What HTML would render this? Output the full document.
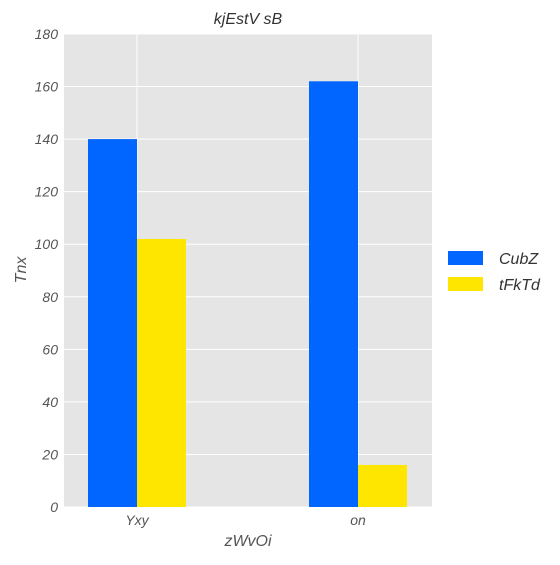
<!DOCTYPE html>
<html><head><meta charset="utf-8"><style>
body{margin:0;background:#fff;}
svg text{font-family:"Liberation Sans",sans-serif;font-style:italic;}
</style></head><body>
<svg id="chart" width="560" height="560" xmlns="http://www.w3.org/2000/svg">
<rect x="64" y="34" width="368" height="473" fill="#e5e5e5"/>
<g id="grid"></g>
<g id="bars"></g>
<g id="ticks"></g>
<text x="248" y="24" text-anchor="middle" font-size="16" fill="#333">kjEstV sB</text>
<text x="248" y="546" text-anchor="middle" font-size="16" fill="#555">zWvOi</text>
<text transform="translate(26,270) rotate(-90)" text-anchor="middle" font-size="16" fill="#555">Tnx</text>
<g>
<rect x="448" y="251" width="35" height="14" fill="#0066ff"/>
<text x="499" y="264" font-size="16" fill="#333">CubZ</text>
<rect x="448" y="277" width="35" height="14" fill="#ffe600"/>
<text x="499" y="290" font-size="16" fill="#333">tFkTd</text>
</g>
</svg>
<script>
const categories=["Yxy","on"];
const seriesCubZ=[140,162];
const seriesTFkTd=[102,16];
const yTicks=[0,20,40,60,80,100,120,140,160,180];
const NS="http://www.w3.org/2000/svg";
const y0=507,y1=34,ymax=180;
function y(v){return y0-(y0-y1)*v/ymax;}
const centers=[137,358];
function x(i){return centers[0]+(centers[1]-centers[0])*i;}
const bw=49;
function mk(t,a,p){const e=document.createElementNS(NS,t);for(const k in a)e.setAttribute(k,a[k]);p.appendChild(e);return e;}
const grid=document.getElementById('grid'),bars=document.getElementById('bars'),ticks=document.getElementById('ticks');
yTicks.forEach(v=>{
  const l=mk('line',{x1:64,x2:432,y1:y(v),y2:y(v),stroke:'#fff','stroke-width':1},grid);
  
  
  const t=mk('text',{x:58,y:y(v)+5,'text-anchor':'end','font-size':14,fill:'#555'},ticks);
  t.textContent=v;
  
  
});
categories.forEach((c,i)=>{
  const l=mk('line',{x1:x(i),x2:x(i),y1:34,y2:507,stroke:'#fff','stroke-width':1},grid);
  
  
  const b1=mk('rect',{x:x(i)-bw,y:y(seriesCubZ[i]),width:bw,height:y0-y(seriesCubZ[i]),fill:'#0066ff'},bars);
  
  
  const b2=mk('rect',{x:x(i),y:y(seriesTFkTd[i]),width:bw,height:y0-y(seriesTFkTd[i]),fill:'#ffe600'},bars);
  
  
  const t=mk('text',{x:x(i),y:525,'text-anchor':'middle','font-size':14,fill:'#555'},ticks);
  t.textContent=c;
  
  
});
</script>
</body></html>
